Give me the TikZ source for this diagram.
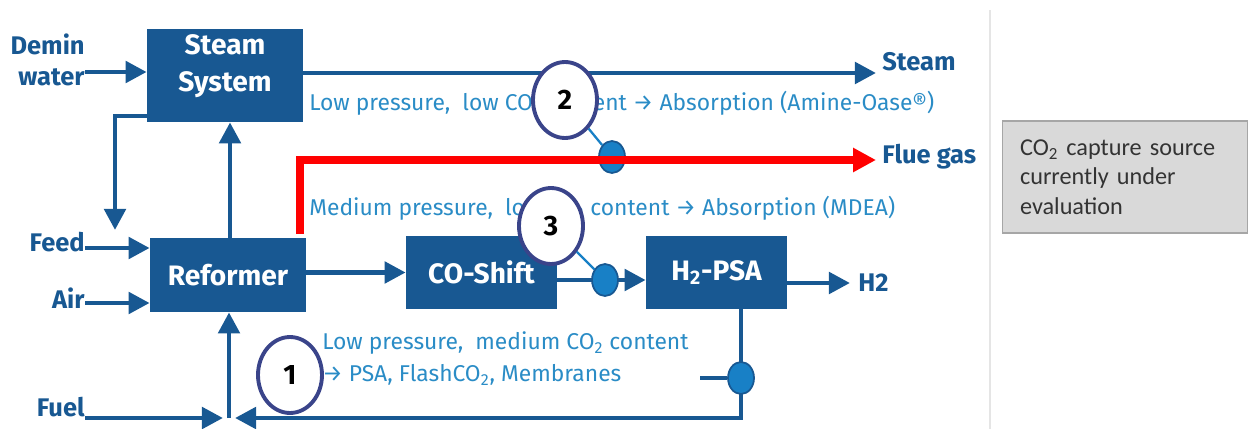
\documentclass[tikz,border=0pt]{standalone}
\usepackage{fontspec}
\setmainfont{Fira Sans}
\newfontfamily\notefont{Carlito}
\usetikzlibrary{arrows.meta,shapes.geometric}
\definecolor{procblue}{RGB}{24,88,146}
\definecolor{noteblue}{RGB}{42,140,198}
\definecolor{ringblue}{RGB}{58,68,138}
\definecolor{dotblue}{RGB}{24,128,198}
\definecolor{notegray}{RGB}{217,217,217}
\newcommand{\ring}[3]{\node[ring] (#1) at (#2) {#3}}
\newcommand{\valve}[2]{\node[valve] (#1) at (#2) {}}

\begin{document}
\begin{tikzpicture}[x=0.02cm,y=-0.02cm,
	unit/.style={fill=procblue,text=white,font=\bfseries\fontsize{16}{21}\selectfont,align=center,inner sep=0pt},
	lbl/.style={text=procblue,font=\bfseries\fontsize{14.5}{17.5}\selectfont,inner sep=0pt},
	remark/.style={text=noteblue,font=\fontsize{13}{15}\selectfont,inner sep=0pt,anchor=west},
	flow/.style={draw=procblue,line width=2.8pt,-{Triangle[length=12pt,width=12pt]}},
	flue/.style={draw=red,line width=4pt,-{Triangle[length=13pt,width=13pt]}},
	tap/.style={draw=dotblue,line width=1.3pt},
	ring/.style={ellipse,draw=ringblue,line width=2.2pt,fill=white,minimum width=1.28cm,minimum height=1.52cm,inner sep=0pt,font=\bfseries\fontsize{16}{18}\selectfont},
	valve/.style={ellipse,draw=procblue,line width=1pt,fill=dotblue,minimum width=0.52cm,minimum height=0.64cm,inner sep=0pt},
	notebox/.style={draw=gray!70,line width=0.6pt,fill=notegray,text=black!80,align=left,text width=4.2cm,inner xsep=0.36cm,minimum height=2.24cm,font=\notefont\fontsize{13.8}{16.7}\selectfont}]
	\useasboundingbox (0,0) rectangle (1248,429);
	% process units
	\node[unit,minimum width=3.12cm,minimum height=1.86cm] (steam) at (225,75.5) {Steam\\System\rule[-14pt]{0pt}{14pt}};
	\node[unit,minimum width=3.12cm,minimum height=1.48cm] (ref) at (228,275) {Reformer};
	\node[unit,minimum width=3.02cm,minimum height=1.46cm] (cos) at (481.5,272.5) {CO-Shift};
	\node[unit,minimum width=2.82cm,minimum height=1.46cm] (psa) at (716.5,272.5) {H\textsubscript{2}-PSA};
	% streams in and out
	\node[lbl,align=right,anchor=east] (demin) at (85,60) {Demin\\water};
	\node[lbl,anchor=east] (feed) at (85,242) {Feed};
	\node[lbl,anchor=east] (air) at (85,298) {Air};
	\node[lbl,anchor=east] (fuel) at (85,407) {Fuel};
	\node[lbl,anchor=west] (steamout) at (882,62) {Steam};
	\node[lbl,anchor=west] (fluegas) at (882,157) {Flue gas};
	\node[lbl,anchor=west] (h2) at (858,283) {H2};
	\coordinate (feeddrop) at (115,230);
	\coordinate (steamend) at (876,73);
	\coordinate (flueend) at (876,160);
	\coordinate (fluestart) at (300,234);
	\coordinate (h2end) at (850,283);
	\coordinate (fuelend) at (223,418);
	\coordinate (retend) at (235,418);
	\coordinate (junction) at (229,418);
	\coordinate (stub) at (700,378);
	\draw[flow] (demin.east |- 0,72) -- (steam.west |- 0,72);
	\draw[flow] (steam.east |- steamend) -- (steamend);
	\draw[flow] (steam.west |- 0,116) -| (feeddrop);
	\draw[flow] (ref.north -| 230,0) -- (steam.south -| 230,0);
	\draw[flow] (feed.east |- 0,248) -- (ref.west |- 0,248);
	\draw[flow] (air.east |- 0,303) -- (ref.west |- 0,303);
	\draw[flow] (fuel.east |- fuelend) -- (fuelend);
	\draw[flow] (psa.south -| 741,0) |- (retend);
	\draw[flow] (junction) -- (ref.south -| junction);
	\draw[flow] (ref.east |- cos) -- (cos.west);
	\draw[flow] (cos.east |- 0,280) -- (psa.west |- 0,280);
	\draw[flow] (psa.east |- h2end) -- (h2end);
	% capture points
	\valve{valve2}{612,157};
	\valve{valve3}{605,280};
	\valve{valve1}{741,378};
	\draw[draw=procblue,line width=1.8pt] (valve1.west) -- (stub);
	\draw[flue] (fluestart) |- (flueend);
	\node[remark] (note2) at (309,103) {Low pressure, \ low CO\textsubscript{2} content → Absorption (Amine-Oase®)};
	\node[remark] (note3) at (309,208) {Medium pressure, \ low CO\textsubscript{2} content → Absorption (MDEA)};
	\node[remark] (note1a) at (322,343) {Low pressure, \ medium CO\textsubscript{2} content};
	\node[remark] (note1b) at (322,375) {→ PSA, FlashCO\textsubscript{2}, Membranes};
	\ring{ring2}{565,100}{2};
	\ring{ring3}{551,226}{3};
	\ring{ring1}{290,375}{1};
	\draw[tap] (ring2) -- (valve2);
	\draw[tap] (ring3) -- (valve3);
	% side note
	\draw[gray!20,line width=0.8pt] (990,10) -- (990,429);
	\node[notebox] (capnote) at (1125,177) {CO\textsubscript{2} capture source\\currently under\\evaluation};
\end{tikzpicture}
\end{document}
